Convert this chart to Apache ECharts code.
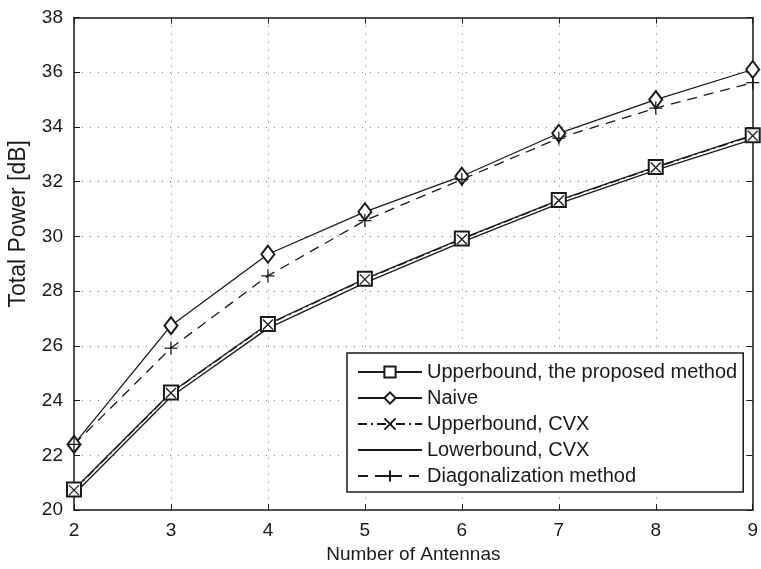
<!DOCTYPE html>
<html>
<head>
<meta charset="utf-8">
<script src="https://cdn.jsdelivr.net/npm/echarts@6/dist/echarts.min.js"></script>
<style>
  html, body { margin: 0; padding: 0; background: #fff; }
  #chart { width: 761px; height: 569px; }
</style>
</head>
<body>
<div id="chart"></div>
<script>
// antennas on x axis
const antennas = [2, 3, 4, 5, 6, 7, 8, 9];

// total power [dB]
const upperProposed = [20.75, 24.30, 26.80, 28.45, 29.92, 31.33, 32.54, 33.70];
const naive         = [22.40, 26.74, 29.35, 30.90, 32.20, 33.77, 35.00, 36.10];
const upperCVX      = [20.73, 24.28, 26.78, 28.43, 29.90, 31.31, 32.52, 33.68];
const lowerCVX      = [20.58, 24.14, 26.64, 28.30, 29.79, 31.20, 32.42, 33.55];
const diagMethod    = [22.40, 25.92, 28.56, 30.58, 32.08, 33.59, 34.69, 35.62];

const seriesNames = [
  'Upperbound, the proposed method',
  'Naive',
  'Upperbound, CVX',
  'Lowerbound, CVX',
  'Diagonalization method'
];

const FONT = '"Liberation Sans", Arial, Helvetica, sans-serif';
const INK = '#1a1a1a';

const chart = echarts.init(document.getElementById('chart'), null, { renderer: 'canvas' });

const toPairs = arr => antennas.map((x, i) => [x, arr[i]]);

function lineSeries(name, data, symbol, size, dash) {
  return {
    name: name,
    type: 'line',
    data: toPairs(data),
    symbol: symbol,
    symbolSize: size,
    showSymbol: symbol !== 'none',
    lineStyle: { color: INK, width: 1.3, type: dash || 'solid' },
    itemStyle: { color: INK, borderColor: INK, borderWidth: 1.3 },
    emphasis: { disabled: true },
    animation: false
  };
}

// stroke-only markers
const xMark = 'path://M0,0L10,10M10,0L0,10';
const plusMark = 'path://M5,0L5,10M0,5L10,5';

const axisCommon = {
  type: 'value',
  axisLine: { show: true, lineStyle: { color: INK, width: 1.5 } },
  axisTick: { show: true, inside: true, length: 6, lineStyle: { color: INK, width: 1 } }
};

chart.setOption({
  backgroundColor: '#fff',
  textStyle: { fontFamily: FONT },
  grid: { left: 74, right: 3, top: 17.5, bottom: 52 },
  xAxis: [
    Object.assign({}, axisCommon, {
      min: 2, max: 9, interval: 1,
      name: 'Number of Antennas',
      nameLocation: 'middle',
      nameGap: 31,
      nameTextStyle: { color: INK, fontSize: 19, fontFamily: FONT },
      axisLabel: { color: INK, fontSize: 19, margin: 11, fontFamily: FONT },
      splitLine: { show: true, lineStyle: { color: '#777', width: 1, type: [1, 7] } }
    }),
    Object.assign({}, axisCommon, {
      min: 2, max: 9, interval: 1, position: 'top',
      axisLabel: { show: false }, splitLine: { show: false }
    })
  ],
  yAxis: [
    Object.assign({}, axisCommon, {
      min: 20, max: 38, interval: 2,
      axisLabel: { color: INK, fontSize: 19, margin: 11, fontFamily: FONT },
      splitLine: { show: true, lineStyle: { color: '#777', width: 1, type: [1, 7] } }
    }),
    Object.assign({}, axisCommon, {
      min: 20, max: 38, interval: 2, position: 'right',
      axisLabel: { show: false }, splitLine: { show: false }
    })
  ],
  legend: {
    orient: 'vertical',
    left: 347,
    top: 353,
    padding: [9, 6, 6, 10],
    itemWidth: 64,
    itemHeight: 14,
    itemGap: 6,
    backgroundColor: '#fff',
    borderColor: INK,
    borderWidth: 1.5,
    borderRadius: 0,
    selectedMode: false,
    textStyle: { color: INK, fontSize: 20, fontFamily: FONT, lineHeight: 20 },
    data: [
      seriesNames[0],
      seriesNames[1],
      seriesNames[2],
      { name: seriesNames[3], itemStyle: { opacity: 0 } },
      seriesNames[4]
    ]
  },
  graphic: [{
    type: 'text',
    left: 7,
    top: 140,
    rotation: Math.PI / 2,
    style: {
      text: 'Total Power [dB]',
      fill: INK,
      font: '23px ' + FONT
    }
  }],
  series: [
    lineSeries(seriesNames[0], upperProposed, 'emptyRect', 14),
    lineSeries(seriesNames[1], naive, 'emptyDiamond', [13, 17]),
    lineSeries(seriesNames[2], upperCVX, xMark, 10, [9, 4, 2, 4]),
    lineSeries(seriesNames[3], lowerCVX, 'none', 0),
    lineSeries(seriesNames[4], diagMethod, plusMark, 13, [10, 7])
  ]
});
</script>
</body>
</html>
